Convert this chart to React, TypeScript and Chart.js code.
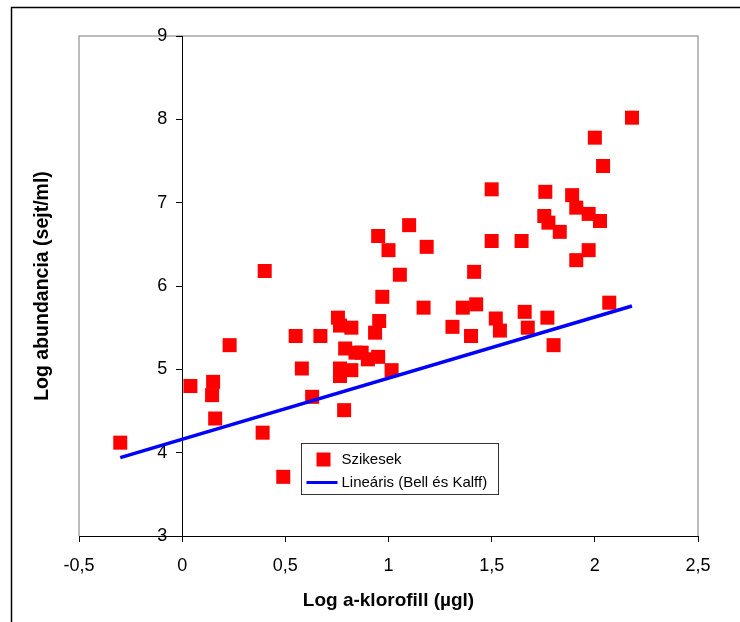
import React, { useEffect, useRef } from 'react';
import { Chart, registerables } from 'chart.js';
Chart.register(...registerables);

// Data
const szikX = [-0.30, 0.04, 0.15, 0.145, 0.16, 0.23, 0.39, 0.40, 0.49, 0.55, 0.58, 0.63, 0.67, 0.755, 0.765, 0.82, 0.79, 0.84, 0.87, 0.90, 0.95, 0.765, 0.82, 0.765, 0.785, 0.935, 0.955, 0.97, 0.95, 1.00, 1.055, 1.10, 1.185, 1.015, 1.17, 1.31, 1.36, 1.40, 1.415, 1.425, 1.50, 1.50, 1.52, 1.54, 1.645, 1.66, 1.675, 1.755, 1.76, 1.775, 1.77, 1.80, 1.83, 1.89, 1.91, 1.91, 1.97, 1.97, 2.00, 2.025, 2.04, 2.07, 2.18];
const szikY = [4.12, 4.80, 4.85, 4.69, 4.41, 5.29, 4.24, 6.18, 3.71, 5.40, 5.01, 4.67, 5.40, 5.62, 5.525, 5.50, 5.25, 5.20, 5.20, 5.12, 5.15, 5.01, 4.99, 4.92, 4.51, 5.44, 5.58, 5.87, 6.60, 6.43, 6.135, 6.73, 6.47, 4.99, 5.74, 5.51, 5.74, 5.40, 6.17, 5.78, 7.16, 6.54, 5.61, 5.465, 6.54, 5.69, 5.50, 6.84, 7.13, 6.76, 5.62, 5.29, 6.65, 7.09, 6.94, 6.31, 6.865, 6.43, 7.78, 6.78, 7.44, 5.80, 8.02];
const trendX = [-0.3, 2.18];
const trendY = [3.94, 5.76];
const xTickLabels = ['-0,5', '0', '0,5', '1', '1,5', '2', '2,5'];
const yTickLabels = ['3', '4', '5', '6', '7', '8', '9'];
const seriesNames = ['Szikesek', 'Lineáris (Bell és Kalff)'];
const xTitle = 'Log a-klorofill (µgl)';
const yTitle = 'Log abundancia (sejt/ml)';

const FONT = "'Liberation Sans', Arial, sans-serif";

const framePlugin = {
  id: 'frame',
  beforeDraw(chart: any) {
    const { ctx, chartArea: a } = chart;
    ctx.save();
    ctx.strokeStyle = '#000';
    ctx.lineWidth = 1.5;
    ctx.beginPath();
    ctx.moveTo(11.5, 622);
    ctx.lineTo(11.5, 7.5);
    ctx.lineTo(740, 7.5);
    ctx.stroke();
    ctx.strokeStyle = '#a6a6a6';
    ctx.lineWidth = 1.5;
    ctx.beginPath();
    ctx.moveTo(a.left, a.bottom);
    ctx.lineTo(a.left, a.top);
    ctx.lineTo(a.right, a.top);
    ctx.lineTo(a.right, a.bottom);
    ctx.stroke();
    ctx.restore();
  },
  afterDraw(chart: any) {
    const { ctx, chartArea: a } = chart;
    const ds = chart.data.datasets;
    const bx = a.left + 222.5, by = a.top + 407.5, bw = 197, bh = 51;
    ctx.save();
    ctx.fillStyle = '#fff';
    ctx.fillRect(bx, by, bw, bh);
    ctx.strokeStyle = '#333';
    ctx.lineWidth = 1;
    ctx.strokeRect(bx, by, bw, bh);
    // marker
    ctx.fillStyle = ds[0].backgroundColor;
    ctx.fillRect(bx + 15, by + 9, 14, 14);
    // line
    ctx.strokeStyle = ds[1].borderColor;
    ctx.lineWidth = 3;
    ctx.beginPath();
    ctx.moveTo(bx + 5, by + 39);
    ctx.lineTo(bx + 36, by + 39);
    ctx.stroke();
    ctx.fillStyle = '#000';
    ctx.font = `15px ${FONT}`;
    ctx.textBaseline = 'middle';
    ctx.textAlign = 'left';
    ctx.fillText(ds[0].label, bx + 40, by + 16);
    ctx.fillText(ds[1].label, bx + 40, by + 39);
    ctx.restore();
  },
};

export default function App() {
  const ref = useRef<HTMLCanvasElement | null>(null);
  useEffect(() => {
    if (!ref.current) return;
    const chart = new Chart(ref.current, {
      type: 'scatter',
      data: {
        datasets: [
          {
            label: seriesNames[0],
            data: szikX.map((x, i) => ({ x, y: szikY[i] })),
            pointStyle: 'rect',
            pointRadius: 9.9,
            pointHoverRadius: 9.9,
            backgroundColor: '#ff0000',
            borderColor: '#ff0000',
            borderWidth: 0,
            order: 1,
          },
          {
            label: seriesNames[1],
            data: trendX.map((x, i) => ({ x, y: trendY[i] })),
            showLine: true,
            borderColor: '#0000ff',
            backgroundColor: '#0000ff',
            borderWidth: 3.5,
            pointRadius: 0,
            order: 0,
          },
        ],
      },
      options: {
        animation: false,
        responsive: false,
        devicePixelRatio: 1,
        layout: { padding: { top: 36, right: 42, left: 0, bottom: 0 } },
        plugins: { legend: { display: false }, tooltip: { enabled: false } },
        scales: {
          x: {
            type: 'linear',
            position: 'bottom',
            min: -0.5,
            max: 2.5,
            afterFit: (s: any) => { s.height = 86; },
            grid: { drawOnChartArea: false, drawTicks: true, tickLength: 6, color: '#000' },
            border: { display: true, color: '#000', width: 1 },
            ticks: {
              stepSize: 0.5,
              padding: 13,
              color: '#000',
              font: { family: FONT, size: 18 },
              callback: (_v: any, i: number) => xTickLabels[i],
            },
            title: {
              display: true,
              text: xTitle,
              color: '#000',
              font: { family: FONT, size: 19, weight: 'bold' },
              padding: { top: 0, bottom: 10 },
            },
          },
          y: {
            type: 'linear',
            position: { x: 0 },
            min: 3,
            max: 9,
            grid: { drawOnChartArea: false, drawTicks: true, tickLength: 6, color: '#000' },
            border: { display: true, color: '#000', width: 1 },
            ticks: {
              stepSize: 1,
              color: '#000',
              font: { family: FONT, size: 18 },
              // axis sits at x = 0, labels are right-aligned on it; trailing spaces keep them clear of the tick marks
              callback: (_v: any, i: number) => yTickLabels[i] + '   ',
            },
          },
          yt: {
            type: 'linear',
            position: 'left',
            afterFit: (s: any) => { s.width = 79; },
            grid: { display: false },
            border: { display: false },
            ticks: { display: false },
            title: {
              display: true,
              text: yTitle,
              color: '#000',
              font: { family: FONT, size: 19.5, weight: 'bold' },
              padding: { top: 31, bottom: 0 },
            },
          },
        },
      } as any,
      plugins: [framePlugin],
    });
    return () => chart.destroy();
  }, []);
  return (
    <div style={{ position: 'absolute', left: 0, top: 0, width: 740, height: 622 }}>
      <canvas ref={ref} width={740} height={622} style={{ width: 740, height: 622, display: 'block' }} />
    </div>
  );
}
